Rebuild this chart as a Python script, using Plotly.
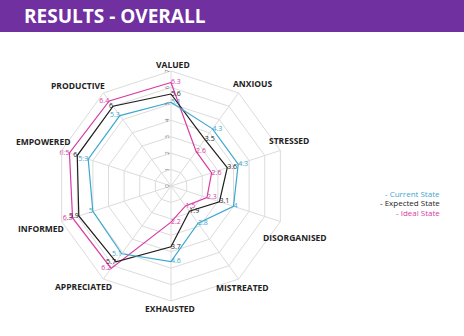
import math
import plotly.graph_objects as go

categories = ["VALUED", "ANXIOUS", "STRESSED", "DISORGANISED", "MISTREATED",
              "EXHAUSTED", "APPRECIATED", "INFORMED", "EMPOWERED", "PRODUCTIVE"]
current_state = [5.1, 4.3, 4.3, 4.0, 2.8, 4.6, 5.1, 5.0, 5.3, 5.3]
expected_state = [5.6, 3.5, 3.6, 3.1, 1.9, 3.7, 5.7, 5.9, 6.0, 6.0]
ideal_state = [6.3, 2.6, 2.6, 2.3, 1.5, 2.2, 6.2, 6.3, 6.5, 6.4]
series_names = ["Current State", "Expected State", "Ideal State"]
radial_ticks = [0, 1, 2, 3, 4, 5, 6, 7]

colors = {"Current State": "#3DA8CE", "Expected State": "#1E1E1E", "Ideal State": "#D83AA6"}
label_pos = ["middle right"] * 6 + ["middle left"] * 4
# pixel offsets of each category label's centre from its outer-ring vertex (layout only)
cat_label_offsets = [(2, -7), (14, -9), (9, -9.5), (15, 15.5), (4, 8),
                     (-1, 7), (-20, 7), (-21, 6.5), (-18, -8.5), (-25, -7)]

W, H = 464, 336
cx, cy, R = 171, 186, 115
RMAX = 7

fig = go.Figure()
for name, vals in [("Ideal State", ideal_state), ("Expected State", expected_state),
                   ("Current State", current_state)]:
    fig.add_trace(go.Scatterpolar(
        r=vals + vals[:1],
        theta=categories + categories[:1],
        mode="lines+text",
        text=[f"{v:g}" for v in vals] + [""],
        textposition=label_pos + ["middle right"],
        textfont=dict(family="Open Sans", size=7, color=colors[name]),
        line=dict(color=colors[name], width=1.2),
        name=name,
        showlegend=False,
        cliponaxis=False,
        hoverinfo="skip",
    ))

fig.update_layout(
    width=W, height=H,
    margin=dict(l=0, r=0, t=0, b=0),
    paper_bgcolor="white",
    plot_bgcolor="white",
    polar=dict(
        domain=dict(x=[(cx - R) / W, (cx + R) / W], y=[1 - (cy + R) / H, 1 - (cy - R) / H]),
        bgcolor="white",
        gridshape="linear",
        angularaxis=dict(
            direction="clockwise", rotation=90,
            showticklabels=False,
            gridcolor="#dcdcdc", linecolor="#dcdcdc", showline=True,
            ticks="",
        ),
        radialaxis=dict(
            range=[0, RMAX], tickvals=radial_ticks, ticktext=[str(t) for t in radial_ticks],
            angle=90, tickangle=0, side="counterclockwise",
            tickfont=dict(family="Open Sans", size=6, color="#777777"),
            gridcolor="#dcdcdc", showline=False, ticks="",
        ),
    ),
    shapes=[dict(type="rect", xref="paper", yref="paper", x0=0, x1=1, y0=1 - 32 / H, y1=1,
                 fillcolor="#7030A0", line=dict(width=0), layer="below")],
)

# category labels just outside the outer ring, following the polar geometry
n = len(categories)
for i, cat in enumerate(categories):
    ang = 2 * math.pi * i / n
    vx = cx + R * math.sin(ang)
    vy = cy - R * math.cos(ang)
    dx, dy = cat_label_offsets[i]
    fig.add_annotation(x=(vx + dx) / W, y=1 - (vy + dy) / H, xref="paper", yref="paper",
                       xanchor="center", yanchor="middle", text=cat, showarrow=False,
                       font=dict(family="Open Sans", size=8.5, color="#222222", weight="bold"))

fig.add_annotation(x=22 / W, y=1 - 16 / H, xref="paper", yref="paper", xanchor="left", yanchor="middle",
                   text="<b>RESULTS - OVERALL</b>", showarrow=False,
                   font=dict(family="Open Sans", size=19, color="white"))

for i, name in enumerate(series_names):
    fig.add_annotation(x=442 / W, y=1 - (193 + 9.5 * i) / H, xref="paper", yref="paper",
                       xanchor="right", yanchor="middle", text="- " + name, showarrow=False,
                       font=dict(family="Open Sans", size=8, color=colors[name]))

fig.write_html("out.html")
